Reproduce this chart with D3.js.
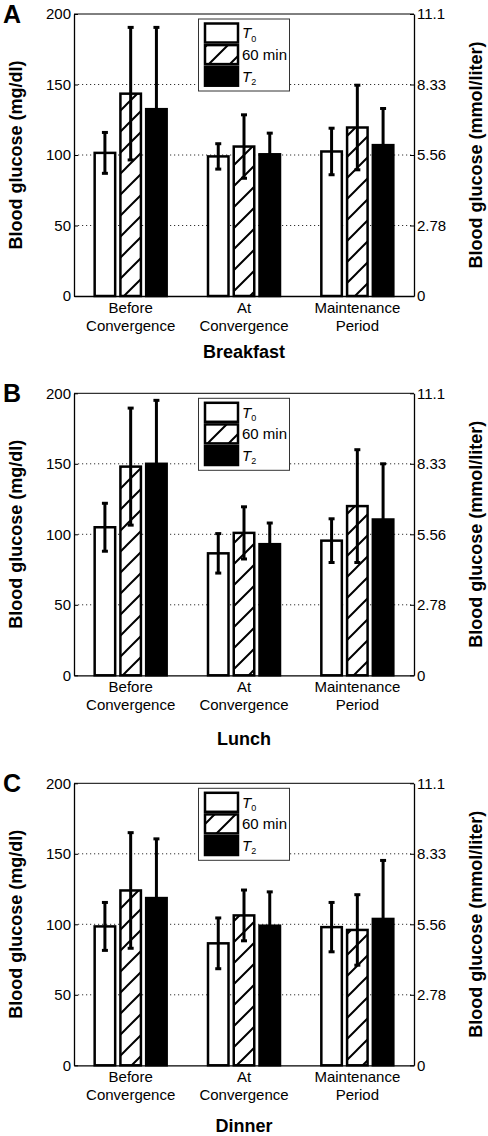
<!DOCTYPE html>
<html><head><meta charset="utf-8">
<script src="https://cdn.jsdelivr.net/npm/d3@7"></script>
<style>body{margin:0;background:#fff} svg{display:block}</style>
</head><body><svg id="c" width="488" height="1136"></svg>
<script>
// ---------- data ----------
const meals = ["Breakfast", "Lunch", "Dinner"];
const panelLetters = ["A", "B", "C"];
const categories = ["Before Convergence", "At Convergence", "Maintenance Period"];
const categoryLines = [["Before", "Convergence"], ["At", "Convergence"], ["Maintenance", "Period"]];
const series = ["T0", "60 min", "T2"];
const mgTicks = [0, 50, 100, 150, 200];
const mmolTickLabels = ["0", "2.78", "5.56", "8.33", "11.1"];
const gridValues = [50, 100, 150];

// mean values (mg/dl) per series, by category
const breakfastT0 = [101.5, 99, 102.5];
const breakfast60 = [143.5, 106, 119.5];
const breakfastT2 = [132.5, 100.5, 107];
const breakfastT0Sd = [14.5, 9, 16.5];
const breakfast60Sd = [47, 22.5, 30];
const breakfastT2Sd = [58, 15, 26];

const lunchT0 = [105, 86.5, 95.5];
const lunch60 = [148, 101, 120];
const lunchT2 = [150, 93, 110.5];
const lunchT0Sd = [17, 14, 15.5];
const lunch60Sd = [41.5, 18.5, 40];
const lunchT2Sd = [45, 15, 39.5];

const dinnerT0 = [98.5, 86.5, 98];
const dinner60 = [124, 106.3, 96];
const dinnerT2 = [118.6, 99, 103.8];
const dinnerT0Sd = [17, 18, 17.5];
const dinner60Sd = [41, 18, 25];
const dinnerT2Sd = [42, 24, 41.5];

const means = [[breakfastT0, breakfast60, breakfastT2], [lunchT0, lunch60, lunchT2], [dinnerT0, dinner60, dinnerT2]];
const sds = [[breakfastT0Sd, breakfast60Sd, breakfastT2Sd], [lunchT0Sd, lunch60Sd, lunchT2Sd], [dinnerT0Sd, dinner60Sd, dinnerT2Sd]];

// ---------- layout ----------
const FONT = "'Liberation Sans', Arial, Helvetica, sans-serif";
const L = 74, R = 414, PH = 282;
const tops = [14, 393.3, 783.3];
const titleOffsets = [62, 70, 66.7];
const fills = ["#fff", "url(#hatch)", "#000"];

const svg = d3.select("#c").style("font-family", FONT);
const defs = svg.append("defs");
const pat = defs.append("pattern").attr("id", "hatch").attr("patternUnits", "userSpaceOnUse")
  .attr("width", 21).attr("height", 21);
pat.append("rect").attr("width", 21).attr("height", 21).attr("fill", "#fff");
pat.append("path").attr("d", "M-2,23 L23,-2 M-6,6 L6,-6 M15,27 L27,15")
  .attr("stroke", "#000").attr("stroke-width", 2).attr("fill", "none");

const x = d3.scaleBand().domain(categories).range([L, R]).paddingInner(0).paddingOuter(0);
const xs = d3.scaleBand().domain(series).range([-36, 36]).paddingInner(0.204).paddingOuter(0);

meals.forEach((meal, mi) => {
  const top = tops[mi], bot = top + PH;
  const g = svg.append("g");
  const y = d3.scaleLinear().domain([0, 200]).range([bot, top]);
  const yR = d3.scaleLinear().domain([0, 200 / 18]).range([bot, top]);

  // gridlines
  g.selectAll(".grid").data(gridValues).join("line")
    .attr("x1", L).attr("x2", R).attr("y1", d => y(d)).attr("y2", d => y(d))
    .attr("stroke", "#333").attr("stroke-width", 1).attr("stroke-dasharray", "1.2,2.8");

  // frame top
  g.append("line").attr("x1", L).attr("x2", R).attr("y1", top).attr("y2", top)
    .attr("stroke", "#000").attr("stroke-width", 1);

  // bars
  const rows = [];
  series.forEach((s, si) => categories.forEach((c, ci) => {
    rows.push({ s, si, c, ci, m: means[mi][si][ci], sd: sds[mi][si][ci] });
  }));
  g.selectAll(".bar").data(rows).join("rect")
    .attr("x", d => x(d.c) + x.bandwidth() / 2 + xs(d.s))
    .attr("width", xs.bandwidth())
    .attr("y", d => y(d.m)).attr("height", d => y(0) - y(d.m))
    .attr("fill", d => fills[d.si]).attr("stroke", "#000").attr("stroke-width", 2.5);

  // error bars
  const cx = d => x(d.c) + x.bandwidth() / 2 + xs(d.s) + xs.bandwidth() / 2;
  g.selectAll(".err").data(rows).join("line")
    .attr("x1", cx).attr("x2", cx)
    .attr("y1", d => y(d.m - d.sd)).attr("y2", d => y(d.m + d.sd))
    .attr("stroke", "#000").attr("stroke-width", 3);
  ["lo", "hi"].forEach(k => {
    g.selectAll(".cap" + k).data(rows).join("line")
      .attr("x1", d => cx(d) - 3).attr("x2", d => cx(d) + 3)
      .attr("y1", d => y(k === "lo" ? d.m - d.sd : d.m + d.sd))
      .attr("y2", d => y(k === "lo" ? d.m - d.sd : d.m + d.sd))
      .attr("stroke", "#000").attr("stroke-width", 3);
  });

  // axes
  const ax = g.append("g").attr("transform", `translate(${L},0)`)
    .call(d3.axisLeft(y).tickValues(mgTicks).tickSize(-4).tickSizeOuter(0).tickPadding(3));
  const axR = g.append("g").attr("transform", `translate(${R},0)`)
    .call(d3.axisRight(yR).tickValues(mgTicks.map(v => v / 18)).tickFormat((d, i) => mmolTickLabels[i])
      .tickSize(-4).tickSizeOuter(0).tickPadding(3));
  const axB = g.append("g").attr("transform", `translate(0,${bot})`)
    .call(d3.axisBottom(x).tickSize(0).tickSizeOuter(0).tickFormat(""));
  [ax, axR, axB].forEach(a => {
    a.select(".domain").attr("stroke", "#000").attr("stroke-width", 1.3);
    a.selectAll(".tick line").attr("stroke", "#000");
    a.selectAll("text").attr("font-family", FONT).attr("font-size", 15).attr("fill", "#000");
  });
  axB.selectAll(".tick text").remove();
  axB.selectAll(".tick").each(function (d, i) {
    const t = d3.select(this).append("text").attr("text-anchor", "middle")
      .attr("font-family", FONT).attr("font-size", 15).attr("fill", "#000");
    categoryLines[i].forEach((ln, li) => t.append("tspan").attr("x", 0).attr("y", 17 + li * 18).text(ln));
  });

  // legend
  const lg = g.append("g");
  lg.append("rect").attr("x", 198.5).attr("y", top + 5).attr("width", 91).attr("height", 72)
    .attr("fill", "#fff").attr("stroke", "#333").attr("stroke-width", 1);
  series.forEach((s, si) => {
    const cy = top + 19 + si * 21.6;
    lg.append("rect").attr("x", 205).attr("y", cy - 9.5).attr("width", 33).attr("height", 19)
      .attr("fill", fills[si]).attr("stroke", "#000").attr("stroke-width", 2.5);
    const t = lg.append("text").attr("x", 242).attr("y", cy + 5.3).attr("font-size", 15).attr("fill", "#000");
    const m = s.match(/^T(\d)$/);
    if (m) {
      t.append("tspan").attr("font-style", "italic").text("T");
      t.append("tspan").attr("font-size", 9).attr("dy", 3.5).text(m[1]);
    } else {
      t.text(s);
    }
  });

  // titles
  g.append("text").attr("x", 3).attr("y", top + 9).attr("font-size", 25).attr("font-weight", "bold")
    .text(panelLetters[mi]);
  g.append("text").attr("transform", `translate(16,${top + PH / 2}) rotate(-90)`)
    .attr("text-anchor", "middle").attr("dominant-baseline", "central")
    .attr("font-size", 18).attr("font-weight", "bold").text("Blood glucose (mg/dl)");
  g.append("text").attr("transform", `translate(476,${top + PH / 2}) rotate(-90)`)
    .attr("text-anchor", "middle").attr("dominant-baseline", "central")
    .attr("font-size", 18).attr("font-weight", "bold").text("Blood glucose (mmol/liter)");
  g.append("text").attr("x", (L + R) / 2).attr("y", bot + titleOffsets[mi]).attr("text-anchor", "middle")
    .attr("font-size", 18).attr("font-weight", "bold").text(meal);
});
</script></body></html>
